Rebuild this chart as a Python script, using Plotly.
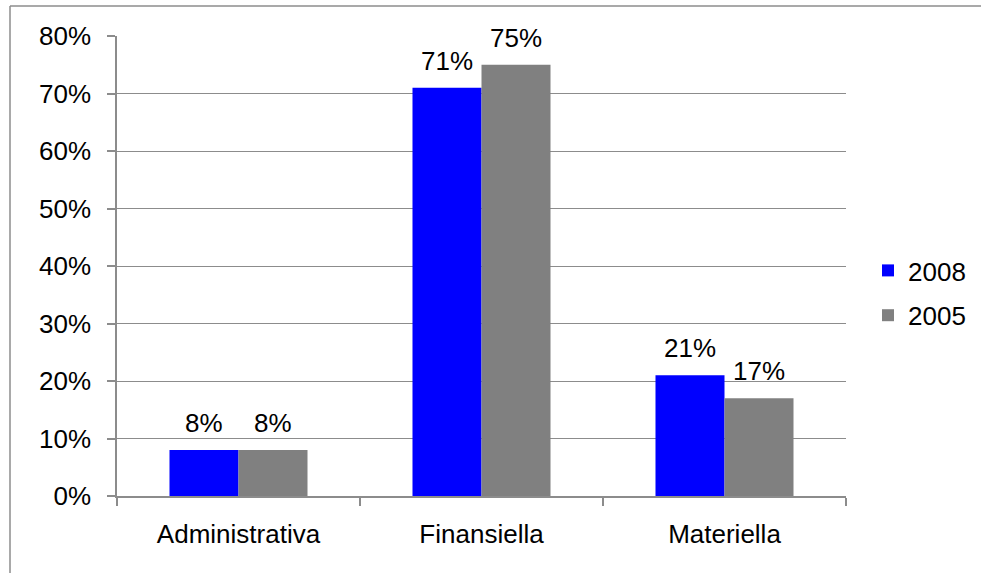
import plotly.graph_objects as go

categories = ["Administrativa", "Finansiella", "Materiella"]
series_names = ["2008", "2005"]
values_2008 = [0.08, 0.71, 0.21]
values_2005 = [0.08, 0.75, 0.17]
y_ticks = [0, 0.1, 0.2, 0.3, 0.4, 0.5, 0.6, 0.7, 0.8]

colors = ["#0000FF", "#808080"]
FONT = "Liberation Sans, Arial, sans-serif"
FS = 26

W, H = 981, 573
L, R, T, B = 117, 135, 36, 77
pw, ph = W - L - R, H - T - B
bar_px = 69  # pixel width of one bar, for label placement

fig = go.Figure()
series = [values_2008, values_2005]
for name, vals, col in zip(series_names, series, colors):
    fig.add_trace(go.Bar(
        x=categories, y=vals, name=name,
        marker=dict(color=col, line=dict(width=0)),
        legendgroup=name,
    ))

annotations = []
for si, vals in enumerate(series):
    shift = (si - 0.5) * bar_px
    for cat, v in zip(categories, vals):
        annotations.append(dict(
            x=cat, y=v, xref="x", yref="y", text=f"{round(v*100)}%",
            showarrow=False, xshift=shift, yshift=27, yanchor="middle", xanchor="center",
            font=dict(family=FONT, size=FS, color="black")))

bx0 = (10 - L) / pw
by1 = 1 + (T - 6) / ph
fig.update_layout(
    width=W, height=H,
    margin=dict(l=L, r=R, t=T, b=B, pad=0, autoexpand=False),
    paper_bgcolor="white", plot_bgcolor="white",
    barmode="group", bargap=0.432, bargroupgap=0,
    font=dict(family=FONT, size=FS, color="black"),
    showlegend=True,
    legend=dict(x=(868 - L) / pw, xanchor="left", y=(H - B - 293) / ph, yanchor="middle",
                font=dict(family=FONT, size=FS, color="black"),
                traceorder="grouped", tracegroupgap=8, bgcolor="rgba(0,0,0,0)",
                itemwidth=30),
    xaxis=dict(showline=True, linecolor="#8c8c8c", linewidth=1.5, ticks="outside",
               tickson="boundaries", ticklen=8, tickcolor="#8c8c8c", tickwidth=1.5,
               showgrid=False, ticklabelstandoff=14,
               tickfont=dict(family=FONT, size=FS, color="black")),
    yaxis=dict(range=[0, 0.8], tickvals=y_ticks, tickformat=".0%",
               showline=True, linecolor="#8c8c8c", linewidth=1.5, ticks="outside",
               ticklen=8, tickcolor="#8c8c8c", tickwidth=1.5,
               showgrid=True, gridcolor="#8c8c8c", gridwidth=1, zeroline=False,
               ticklabelstandoff=11,
               tickfont=dict(family=FONT, size=FS, color="black")),
    annotations=annotations,
    shapes=[
        dict(type="line", xref="paper", yref="paper", x0=bx0, x1=(W - L) / pw, y0=by1, y1=by1,
             line=dict(color="#8c8c8c", width=1.5), layer="below"),
        dict(type="line", xref="paper", yref="paper", x0=bx0, x1=bx0, y0=-B / ph, y1=by1,
             line=dict(color="#8c8c8c", width=1.5), layer="below"),
    ],
)

fig.write_html("out.html")
